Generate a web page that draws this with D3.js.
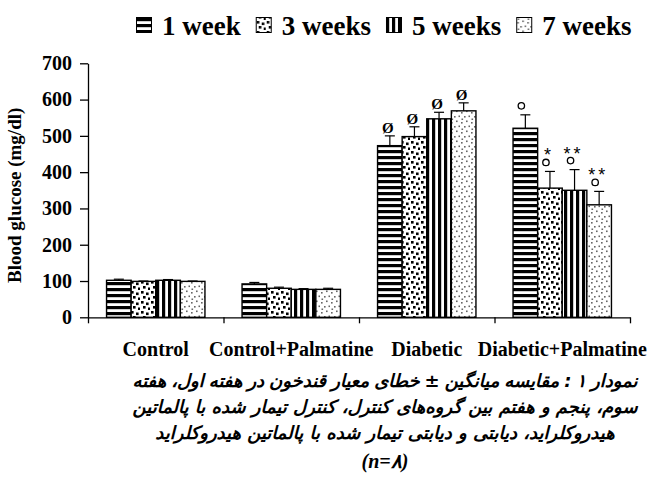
<!DOCTYPE html>
<html>
<head>
<meta charset="utf-8">
<script src="https://cdn.jsdelivr.net/npm/d3@7"></script>
<style>
  body { margin: 0; background: #fff; }
  svg { display: block; }
</style>
</head>
<body>
<div id="chart"></div>
<script>
// donnees
const groups = ["Control", "Control+Palmatine", "Diabetic", "Diabetic+Palmatine"];
const weeks = ["1 week", "3 weeks", "5 weeks", "7 weeks"];

const mean1w = [102, 92, 473, 521];
const mean3w = [99, 80, 498, 356];
const mean5w = [102, 77, 547, 350];
const mean7w = [99, 77, 569, 310];

const sem1w = [3, 4, 27, 37];
const sem3w = [1, 3, 27, 46];
const sem5w = [2, 2, 18, 57];
const sem7w = [1, 3, 22, 37];

// marques de significativite : "phi" = Ø, "o" = cercle, "*" / "**" = etoiles
const marks1w = ["", "", "phi", "o"];
const marks3w = ["", "", "phi", "o*"];
const marks5w = ["", "", "phi", "o**"];
const marks7w = ["", "", "phi", "o**"];

const yTicks = [0, 100, 200, 300, 400, 500, 600, 700];

const captionLines = [
  "نمودار ۱ : مقایسه میانگین ± خطای معیار قندخون در هفته اول، هفته",
  "سوم، پنجم و هفتم بین گروه‌های کنترل، کنترل تیمار شده با پالماتین",
  "هیدروکلراید، دیابتی و دیابتی تیمار شده با پالماتین هیدروکلراید"
];
const captionN = "(n=۸)";

const means = [mean1w, mean3w, mean5w, mean7w];
const sems = [sem1w, sem3w, sem5w, sem7w];
const marks = [marks1w, marks3w, marks5w, marks7w];

// table a plat pour les barres
const bars = [];
groups.forEach((g, gi) => {
  weeks.forEach((w, wi) => {
    bars.push({ group: g, week: w, wi: wi, value: means[wi][gi], err: sems[wi][gi], mark: marks[wi][gi] });
  });
});

const width = 650, height = 485;
const margin = { top: 63.3, right: 20, bottom: 167.7, left: 88 };
const serif = "'Liberation Serif', 'Times New Roman', serif";

const svg = d3.select("#chart")
  .append("svg")
  .attr("width", width)
  .attr("height", height);

// motifs noir et blanc
const defs = svg.append("defs");

const pHoriz = defs.append("pattern").attr("id", "p1").attr("patternUnits", "userSpaceOnUse")
  .attr("width", 6).attr("height", 6);
pHoriz.append("rect").attr("width", 6).attr("height", 6).attr("fill", "#fff");
pHoriz.append("rect").attr("y", 0).attr("width", 6).attr("height", 3.2).attr("fill", "#000");

const pDots = defs.append("pattern").attr("id", "p2").attr("patternUnits", "userSpaceOnUse")
  .attr("width", 10).attr("height", 10);
pDots.append("rect").attr("width", 10).attr("height", 10).attr("fill", "#fff");
[[1, 1], [6, 2.5], [3, 6], [8, 7.5]].forEach(p => {
  pDots.append("rect").attr("x", p[0]).attr("y", p[1]).attr("width", 2.6).attr("height", 2.6).attr("fill", "#000");
});

const pVert = defs.append("pattern").attr("id", "p3").attr("patternUnits", "userSpaceOnUse")
  .attr("width", 6).attr("height", 6);
pVert.append("rect").attr("width", 6).attr("height", 6).attr("fill", "#fff");
pVert.append("rect").attr("x", 0).attr("width", 3.2).attr("height", 6).attr("fill", "#000");

const pSparse = defs.append("pattern").attr("id", "p4").attr("patternUnits", "userSpaceOnUse")
  .attr("width", 10).attr("height", 10);
pSparse.append("rect").attr("width", 10).attr("height", 10).attr("fill", "#fff");
[[1, 2], [6, 0.5], [4, 6], [8.5, 5.5], [1.5, 8.5]].forEach(p => {
  pSparse.append("rect").attr("x", p[0]).attr("y", p[1]).attr("width", 1.6).attr("height", 1.6).attr("fill", "#666");
});

const fillScale = d3.scaleOrdinal().domain(weeks).range(["url(#p1)", "url(#p2)", "url(#p3)", "url(#p4)"]);

// echelles
const x0 = d3.scaleBand()
  .domain(groups)
  .range([margin.left, width - margin.right]);

const x1 = d3.scaleBand()
  .domain(weeks)
  .range([0, x0.bandwidth()])
  .paddingOuter(0.754);

const y = d3.scaleLinear()
  .domain([0, 700])
  .range([height - margin.bottom, margin.top]);

const xEdges = d3.scaleLinear()
  .domain([0, groups.length])
  .range(x0.range());

// axe Y
svg.append("g")
  .attr("transform", `translate(${margin.left},0)`)
  .call(d3.axisLeft(y).tickValues(yTicks).tickSize(8).tickSizeOuter(0).tickPadding(8))
  .call(g => g.selectAll("text")
    .style("font-family", serif).style("font-size", "20px").style("font-weight", "bold").attr("fill", "#000"))
  .call(g => g.selectAll("line, path").attr("stroke", "#000").attr("stroke-width", 1.3));

// axe X : graduations aux bords des groupes
svg.append("g")
  .attr("transform", `translate(0,${y(0)})`)
  .call(d3.axisBottom(xEdges).tickValues(d3.range(groups.length + 1)).tickFormat("").tickSize(6).tickSizeOuter(0))
  .call(g => g.selectAll("line, path").attr("stroke", "#000").attr("stroke-width", 1.3));

// noms des groupes
svg.append("g")
  .attr("transform", `translate(0,${y(0)})`)
  .call(d3.axisBottom(x0).tickSize(0).tickPadding(24.5))
  .call(g => g.select(".domain").remove())
  .call(g => g.selectAll("text")
    .style("font-family", serif).style("font-size", "20px").style("font-weight", "bold").attr("fill", "#000"));

// titre Y
svg.append("text")
  .attr("transform", "rotate(-90)")
  .attr("x", -(y(0) + y(700)) / 2 - 5)
  .attr("y", 21)
  .attr("text-anchor", "middle")
  .style("font-family", serif)
  .style("font-size", "19px")
  .style("font-weight", "bold")
  .text("Blood glucose (mg/dl)");

// barres
const barG = svg.append("g");
barG.selectAll("rect")
  .data(bars)
  .join("rect")
  .attr("x", d => x0(d.group) + x1(d.week))
  .attr("y", d => y(d.value))
  .attr("width", x1.bandwidth())
  .attr("height", d => y(0) - y(d.value))
  .attr("fill", d => fillScale(d.week))
  .attr("stroke", "#000")
  .attr("stroke-width", 1.4);

// barres d'erreur (partie haute)
const errG = svg.append("g").attr("stroke", "#000").attr("stroke-width", 1.2);
const cx = d => x0(d.group) + x1(d.week) + x1.bandwidth() / 2;
errG.selectAll(".ev")
  .data(bars)
  .join("line")
  .attr("class", "ev")
  .attr("x1", cx).attr("x2", cx)
  .attr("y1", d => y(d.value)).attr("y2", d => y(d.value + d.err));
errG.selectAll(".ec")
  .data(bars)
  .join("line")
  .attr("class", "ec")
  .attr("x1", d => cx(d) - 5).attr("x2", d => cx(d) + 5)
  .attr("y1", d => y(d.value + d.err)).attr("y2", d => y(d.value + d.err));

// marques de significativite
const markG = svg.append("g");
bars.filter(d => d.mark !== "").forEach(d => {
  const top = y(d.value + d.err);
  if (d.mark === "phi") {
    markG.append("text")
      .attr("x", cx(d) - 2)
      .attr("y", top - 3)
      .attr("text-anchor", "middle")
      .style("font-family", serif)
      .style("font-size", "15px")
      .style("font-weight", "bold")
      .text("Ø");
    return;
  }
  const ringY = top - 9;
  markG.append("circle")
    .attr("cx", cx(d) - 4)
    .attr("cy", ringY)
    .attr("r", 3.2)
    .attr("fill", "none")
    .attr("stroke", "#000")
    .attr("stroke-width", 1.3);
  const stars = d.mark.slice(1);
  if (stars) {
    markG.append("text")
      .attr("x", cx(d) - 1)
      .attr("y", ringY - 1)
      .attr("text-anchor", "middle")
      .style("font-family", "'Liberation Sans', Arial, sans-serif")
      .style("font-size", "18px")
      .style("letter-spacing", "3px")
      .text(stars);
  }
});

// legende
const legend = svg.append("g").attr("transform", "translate(136,0)");
let lx = 0;
weeks.forEach(w => {
  const item = legend.append("g").attr("transform", `translate(${lx},0)`);
  item.append("rect")
    .attr("x", 0.5).attr("y", 17.5)
    .attr("width", 15).attr("height", 15)
    .attr("fill", fillScale(w))
    .attr("stroke", "#000")
    .attr("stroke-width", 1);
  const t = item.append("text")
    .attr("x", 26)
    .attr("y", 35)
    .style("font-family", serif)
    .style("font-size", "27px")
    .style("font-weight", "bold")
    .text(w);
  lx += 26 + t.node().getComputedTextLength() + 15;
});

// legende de la figure (persan)
const capG = svg.append("g")
  .style("font-family", "'DejaVu Sans', sans-serif")
  .style("font-weight", "bold")
  .style("font-style", "italic")
  .style("font-size", "18px");
const capX = 385;
const capWidth = 505;
captionLines.forEach((line, i) => {
  const t = capG.append("text")
    .attr("x", capX)
    .attr("y", 387 + i * 26)
    .attr("text-anchor", "middle")
    .attr("direction", "rtl")
    .text(line);
  if (i < 2) {
    const nSpaces = line.split(" ").length - 1;
    const extra = (capWidth - t.node().getComputedTextLength()) / nSpaces;
    t.style("word-spacing", extra + "px");
  }
});
capG.append("text")
  .attr("x", capX)
  .attr("y", 387 + 3 * 26 + 3)
  .attr("text-anchor", "middle")
  .style("font-family", serif)
  .style("font-size", "20px")
  .text(captionN);
</script>
</body>
</html>
